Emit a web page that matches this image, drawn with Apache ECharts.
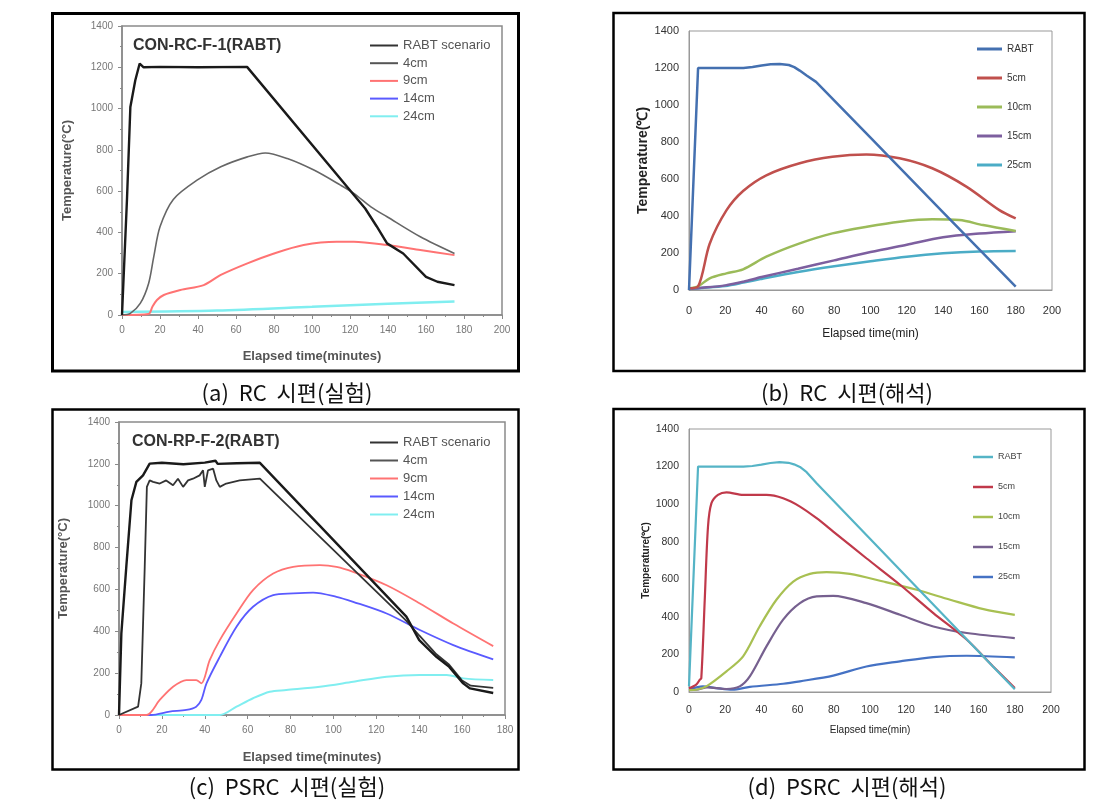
<!DOCTYPE html>
<html>
<head>
<meta charset="utf-8">
<script src="https://cdn.jsdelivr.net/npm/echarts@6/dist/echarts.min.js"></script>
<style>
html,body{margin:0;padding:0;background:#fff;}
#chart{width:1115px;height:809px;}
</style>
</head>
<body>
<div id="chart"></div>
<script>
// ---------- (a) RC specimen, experiment: [minutes, °C] ----------
const aRabt = [[0,0],[2.6,556],[4.4,1008],[7,1137],[8,1140],[9.3,1218],[11.4,1200],[20,1202],[40,1200],[65.8,1202],[128,516],[134,430],[139.5,347],[148,298],[160,185],[166,161],[175,145]];
const a4cm = [[0,0],[4.4,8],[9.6,56],[14,153],[16.7,282],[20,427],[27,560],[39.5,653],[52,718],[66,766],[75.4,785],[87,758],[101,702],[115,629],[122,589],[131,524],[139.5,476],[157,379],[175,298]];
const a9cm = [[0,0],[14,5],[16,40],[18.4,73],[22,97],[30.7,121],[43,145],[52,194],[66,250],[80,298],[95.6,339],[113,355],[122,355],[139.5,339],[157,315],[175,290]];
const a24cm = [[0,15],[50,22],[100,40],[140,55],[175,65]];

// ---------- (b) RC specimen, analysis ----------
const bRabt = [[0,0],[5,1200],[30,1200],[35,1205],[40,1214],[45,1220],[50,1222],[55,1216],[58,1205],[61,1186],[65,1158],[70,1125],[100,823],[140,420],[180,18]];
const b5cm = [[0,10],[5,20],[11.4,250],[20.6,430],[29.8,535],[42.6,620],[61,685],[79,720],[97.7,733],[116,712],[134,658],[152.8,559],[171,432],[180,387]];
const b10cm = [[0,10],[5,20],[11.4,63],[20.6,90],[29.8,112],[42.6,180],[61,252],[79,306],[98,342],[116,369],[134,382],[149,378],[162,351],[180,319]];
const b15cm = [[0,5],[5,10],[20,25],[30,45],[40,70],[60,115],[80,160],[100,205],[120,245],[140,285],[160,305],[180,318]];
const b25cm = [[0,5],[5,10],[20,22],[30,40],[40,60],[60,97],[80,128],[100,155],[120,180],[140,198],[160,208],[180,211]];

// ---------- (c) PSRC specimen, experiment ----------
const cRabt = [[0,0],[1.1,390],[3.4,708],[5.8,1026],[8.1,1114],[11.2,1145],[14.3,1201],[20,1205],[30,1198],[40,1206],[45,1215],[46,1200],[55,1203],[65.7,1205],[134,470],[140,358],[148,278],[154,230],[160.5,151],[163.7,127],[174.5,105]];
const c4cm = [[0,0],[8.9,40],[10.4,151],[12,708],[13,1090],[14.3,1121],[15.9,1114],[19,1106],[22,1121],[25.2,1098],[27.5,1129],[29.9,1090],[32.2,1121],[34.5,1129],[37.6,1145],[39.2,1169],[40,1090],[41.5,1169],[43.9,1177],[45.4,1121],[47,1090],[50,1106],[56.3,1121],[65.7,1129],[130,490],[134,450],[140,380],[148,290],[154,240],[160,165],[164,140],[174.5,130]];
const c9cm = [[0,0],[12.8,0],[19,72],[25.2,135],[31.4,167],[36,167],[38.4,151],[42.3,262],[47,358],[54.8,485],[62.5,597],[71.9,676],[81.2,708],[93.7,716],[101.4,708],[109.2,684],[124.8,620],[140.3,533],[155.9,437],[174.5,329]];
const c14cm = [[0,0],[15,0],[23.6,16],[31.4,24],[36,40],[38.4,72],[40.8,151],[47,278],[54.8,422],[62.5,517],[71.9,573],[81.2,581],[90.5,585],[101.4,565],[109.2,541],[124.8,485],[140.3,406],[155.9,334],[174.5,266]];
const c24cm = [[0,0],[47,0],[54.8,40],[62.5,80],[70.3,111],[78,119],[93.7,135],[109.2,159],[124.8,183],[140.3,191],[152.8,191],[160.5,175],[174.5,167]];

// ---------- (d) PSRC specimen, analysis ----------
const dRabt = [[0,30],[5,1200],[30,1200],[35,1203],[40,1210],[45,1219],[50,1224],[55,1220],[58,1212],[61.3,1198],[65,1170],[70.5,1111],[100,816],[140,415],[180,15]];
const d5cm = [[0,20],[4,39],[6,66],[6.8,74],[8.7,491],[10.5,881],[12.4,1005],[16,1049],[20.7,1063],[29.9,1049],[42.8,1049],[52,1031],[61.3,987],[70.5,925],[79.7,854],[98,712],[116.6,571],[135,420],[153.5,278],[168,136],[180,21]];
const d10cm = [[0,10],[4,12],[9.6,30],[20.7,110],[29.9,190],[39,349],[48.3,491],[57.6,588],[66.8,629],[76,638],[88.9,629],[107.4,588],[125.8,544],[144.3,491],[162.7,441],[180,411]];
const d15cm = [[0,15],[4,12],[10,25],[20.7,16],[28,30],[33.6,83],[42.8,243],[52,385],[61.3,473],[70.5,509],[79.7,512],[98,473],[116.6,411],[135,349],[153.5,314],[180,287]];
const d25cm = [[0,20],[2,21],[7.7,30],[15,21],[24,12],[33.6,27],[52,44],[61.3,57],[79.7,87],[98,136],[116.6,163],[135,186],[153.5,193],[180,184]];

// ---------- labels ----------
const expNames = ['RABT scenario','4cm','9cm','14cm','24cm'];
const anaNames = ['RABT','5cm','10cm','15cm','25cm'];
const captions = ['(a)  RC  시편(실험)','(b)  RC  시편(해석)','(c)  PSRC  시편(실험)','(d)  PSRC  시편(해석)'];
const panelTitles = ['CON-RC-F-1(RABT)','CON-RP-F-2(RABT)'];
const xNameExp = 'Elapsed time(minutes)';
const xNameAna = 'Elapsed time(min)';
const yNameExp = 'Temperature(°C)';
const yNameAna = 'Temperature(℃)';

const colExp = ['#333333','#555555','#ff7373','#5a5aff','#80eef0'];
const colB = ['#4470b0','#c0504d','#9bbb59','#7d5f9f','#4bacc6'];
const colD = ['#55b4c6','#c0394a','#a8c052','#76608f','#4572c4'];

const FO = "'Liberation Sans', Arial, sans-serif";
const plain = function (v) { return String(v); };

function line(name, data, idx, color, width, smooth, z) {
  return {
    type: 'line', name: name, data: data, xAxisIndex: idx, yAxisIndex: idx,
    symbol: 'none', showSymbol: false, smooth: smooth ? 0.3 : false,
    lineStyle: { color: color, width: width }, itemStyle: { color: color },
    z: z || 2
  };
}

function expX(idx, max, labelMargin, nameGap) {
  return {
    gridIndex: idx, type: 'value', min: 0, max: max, interval: 20,
    axisLine: { show: true, lineStyle: { color: '#8a8a8a', width: 1.5 } },
    axisTick: { show: true, inside: false, length: 4, lineStyle: { color: '#8a8a8a' } },
    minorTick: { show: true, splitNumber: 2, length: 2, lineStyle: { color: '#8a8a8a' } },
    splitLine: { show: false },
    axisLabel: { fontSize: 10, color: '#777', margin: labelMargin, fontFamily: FO, formatter: plain },
    name: xNameExp, nameLocation: 'middle', nameGap: nameGap,
    nameTextStyle: { fontSize: 13, fontWeight: 'bold', color: '#555', fontFamily: FO }
  };
}
function expY(idx, nameGap) {
  return {
    gridIndex: idx, type: 'value', min: 0, max: 1400, interval: 200,
    axisLine: { show: true, lineStyle: { color: '#8a8a8a', width: 1.5 } },
    axisTick: { show: true, inside: false, length: 4, lineStyle: { color: '#8a8a8a' } },
    minorTick: { show: true, splitNumber: 2, length: 2, lineStyle: { color: '#8a8a8a' } },
    splitLine: { show: false },
    axisLabel: { fontSize: 10, color: '#777', margin: 9, fontFamily: FO, formatter: plain },
    name: yNameExp, nameLocation: 'middle', nameGap: nameGap,
    nameTextStyle: { fontSize: 13, fontWeight: 'bold', color: '#555', fontFamily: FO }
  };
}
function anaX(idx, fs, labelMargin, nameGap, nameFs) {
  return {
    gridIndex: idx, type: 'value', min: 0, max: 200, interval: 20,
    axisLine: { show: true, lineStyle: { color: '#999', width: 1 } },
    axisTick: { show: false }, splitLine: { show: false },
    axisLabel: { fontSize: fs, color: '#333', margin: labelMargin, fontFamily: FO, formatter: plain },
    name: xNameAna, nameLocation: 'middle', nameGap: nameGap,
    nameTextStyle: { fontSize: nameFs, color: '#222', fontFamily: FO }
  };
}
function anaY(idx, fs, nameGap, nameFs) {
  return {
    gridIndex: idx, type: 'value', min: 0, max: 1400, interval: 200,
    axisLine: { show: true, lineStyle: { color: '#999', width: 1 } },
    axisTick: { show: false }, splitLine: { show: false },
    axisLabel: { fontSize: fs, color: '#333', margin: 10, fontFamily: FO, formatter: plain },
    name: yNameAna, nameLocation: 'middle', nameGap: nameGap,
    nameTextStyle: { fontSize: nameFs, fontWeight: 'bold', color: '#222', fontFamily: FO }
  };
}
function legend(names, cols, left, top, gap, iw, ih, fs, color) {
  return {
    orient: 'vertical', left: left, top: top, itemWidth: iw, itemHeight: ih, itemGap: gap,
    selectedMode: false, padding: 0,
    data: names.map(function (n, i) {
      return { name: n, icon: 'rect', itemStyle: { color: cols[i], borderWidth: 0 } };
    }),
    textStyle: { fontSize: fs, color: color, fontFamily: FO, lineHeight: 12, height: 12 }
  };
}

const chart = echarts.init(document.getElementById('chart'), null, { renderer: 'canvas' });

const frameStyle = function (w) { return { fill: 'none', stroke: '#000', lineWidth: w }; };
const capFont = "22px 'Noto Sans CJK KR'";

chart.setOption({
  backgroundColor: '#fff',
  animation: false,
  grid: [
    { left: 122, top: 26, width: 380, height: 289, show: true, borderColor: '#8a8a8a', borderWidth: 1.5 },
    { left: 689, top: 31, width: 363, height: 259, show: true, borderColor: '#999', borderWidth: 1 },
    { left: 119, top: 422, width: 386, height: 293, show: true, borderColor: '#8a8a8a', borderWidth: 1.5 },
    { left: 689, top: 429, width: 362, height: 263, show: true, borderColor: '#999', borderWidth: 1 }
  ],
  xAxis: [ expX(0, 200, 10, 35), anaX(1, 11, 15, 38, 12), expX(2, 180, 10, 36), anaX(3, 10.5, 13, 33, 10) ],
  yAxis: [ expY(0, 48), anaY(1, 11, 25, 14), expY(2, 49), anaY(3, 10.5, 23, 10) ],
  legend: [
    legend(expNames, colExp, 370, 39, 4.7, 28, 2, 13, '#555'),
    legend(anaNames, colB, 977, 43, 17, 25, 3, 10, '#333'),
    legend(expNames, colExp, 370, 436, 5, 28, 2, 13, '#555'),
    legend(anaNames, colD, 973, 451, 18, 20, 2.5, 9, '#444')
  ],
  graphic: [
    { type: 'rect', shape: { x: 52.5, y: 13.5, width: 466, height: 357.5 }, style: frameStyle(3), silent: true },
    { type: 'rect', shape: { x: 613.5, y: 13, width: 471, height: 358 }, style: frameStyle(2.5), silent: true },
    { type: 'rect', shape: { x: 52.5, y: 409.5, width: 466, height: 360 }, style: frameStyle(2.5), silent: true },
    { type: 'rect', shape: { x: 613.5, y: 409, width: 471, height: 360.5 }, style: frameStyle(2.5), silent: true },
    { type: 'text', x: 133, y: 46, style: { text: panelTitles[0], font: "bold 16px 'Liberation Sans', Arial", fill: '#333', textVerticalAlign: 'middle' } },
    { type: 'text', x: 132, y: 442, style: { text: panelTitles[1], font: "bold 16px 'Liberation Sans', Arial", fill: '#333', textVerticalAlign: 'middle' } },
    { type: 'text', x: 287, y: 393, style: { text: captions[0], font: capFont, fill: '#111', textAlign: 'center', textVerticalAlign: 'middle' } },
    { type: 'text', x: 847, y: 393, style: { text: captions[1], font: capFont, fill: '#111', textAlign: 'center', textVerticalAlign: 'middle' } },
    { type: 'text', x: 287, y: 787, style: { text: captions[2], font: capFont, fill: '#111', textAlign: 'center', textVerticalAlign: 'middle' } },
    { type: 'text', x: 847, y: 787, style: { text: captions[3], font: capFont, fill: '#111', textAlign: 'center', textVerticalAlign: 'middle' } }
  ],
  series: [
    line('24cm', a24cm, 0, colExp[4], 2.5, true),
    line('9cm', a9cm, 0, colExp[2], 2, true),
    line('4cm', a4cm, 0, '#666666', 1.6, true),
    line('RABT scenario', aRabt, 0, '#1a1a1a', 2.4, false, 3),

    line('25cm', b25cm, 1, colB[4], 2.5, true),
    line('15cm', b15cm, 1, colB[3], 2.5, true),
    line('10cm', b10cm, 1, colB[2], 2.5, true),
    line('5cm', b5cm, 1, colB[1], 2.5, true),
    line('RABT', bRabt, 1, colB[0], 2.5, false),

    line('24cm', c24cm, 2, colExp[4], 2, true),
    line('14cm', c14cm, 2, colExp[3], 1.8, true),
    line('9cm', c9cm, 2, colExp[2], 1.8, true),
    line('4cm', c4cm, 2, '#333333', 1.8, false, 3),
    line('RABT scenario', cRabt, 2, '#1a1a1a', 2.4, false, 3),

    line('25cm', d25cm, 3, colD[4], 2.2, true),
    line('15cm', d15cm, 3, colD[3], 2.2, true),
    line('10cm', d10cm, 3, colD[2], 2.2, true),
    line('5cm', d5cm, 3, colD[1], 2.2, true),
    line('RABT', dRabt, 3, colD[0], 2.2, false)
  ]
});
</script>
</body>
</html>
